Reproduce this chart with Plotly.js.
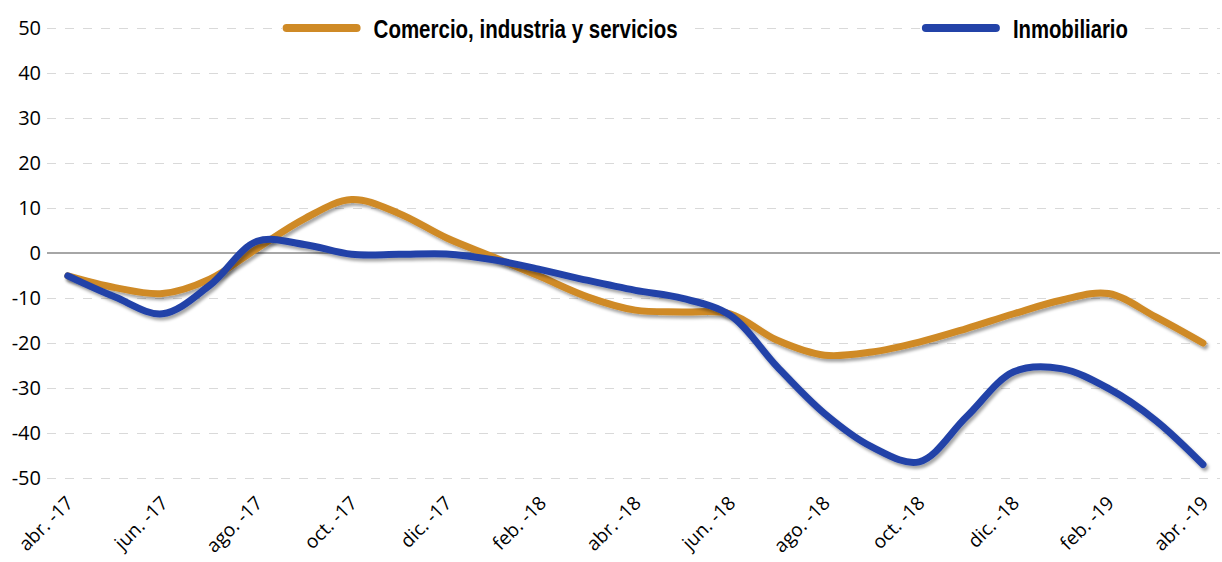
<!DOCTYPE html>
<html>
<head>
<meta charset="utf-8">
<script src="https://cdn.plot.ly/plotly-3.0.1.min.js"></script>
<style>
  html, body { margin: 0; padding: 0; background: #fff; }
  #chart { width: 1222px; height: 562px; }
  .legendlines path, .scatterlayer path.js-line { stroke-linecap: round !important; stroke-linejoin: round !important; }
</style>
</head>
<body>
<div id="chart"></div>
<script>
// Months (monthly data); labels shown every two months
const months = ['abr. -17','may. -17','jun. -17','jul. -17','ago. -17','sep. -17','oct. -17','nov. -17','dic. -17',
  'ene. -18','feb. -18','mar. -18','abr. -18','may. -18','jun. -18','jul. -18','ago. -18','sep. -18','oct. -18',
  'nov. -18','dic. -18','ene. -19','feb. -19','mar. -19','abr. -19'];
const tickLabels = ['abr. -17','jun. -17','ago. -17','oct. -17','dic. -17','feb. -18','abr. -18','jun. -18',
  'ago. -18','oct. -18','dic. -18','feb. -19','abr. -19'];
const comercio = [-5.1, -7.7, -9.0, -5.8, 1.0, 7.6, 11.9, 8.8, 3.4, -0.9, -5.3, -9.8, -12.7,
  -13.1, -13.5, -19.4, -22.7, -22.0, -19.8, -16.8, -13.5, -10.5, -9.0, -14.2, -20.0];
const inmobiliario = [-5.1, -9.8, -13.5, -7.2, 2.6, 1.9, -0.3, -0.3, -0.2, -1.5, -3.7, -6.1, -8.3,
  -10.1, -13.8, -25.3, -35.7, -43.1, -46.4, -36.4, -26.4, -25.7, -30.1, -37.2, -47.0];
const seriesNames = ['Comercio, industria y servicios', 'Inmobiliario'];
const yTicks = [-50, -40, -30, -20, -10, 0, 10, 20, 30, 40, 50];

const orange = '#CF8A26';
const blue = '#2343A8';

const traces = [
  { x: months, y: comercio, name: seriesNames[0], type: 'scatter', mode: 'lines',
    line: { color: orange, width: 7, shape: 'spline', smoothing: 1 }, legend: 'legend' },
  { x: months, y: inmobiliario, name: seriesNames[1], type: 'scatter', mode: 'lines',
    line: { color: blue, width: 7, shape: 'spline', smoothing: 1 }, legend: 'legend2' }
];

const legendFont = { family: '"Liberation Sans Narrow", "Liberation Sans", sans-serif', size: 25, color: '#000', weight: 'bold' };

const layout = {
  width: 1222, height: 562,
  margin: { l: 47, r: 2, t: 19, b: 75 },
  paper_bgcolor: '#fff', plot_bgcolor: '#fff',
  showlegend: true,
  legend: { x: 0.2, y: 0.98, xanchor: 'left', yanchor: 'middle', orientation: 'h', bgcolor: '#fff',
    font: legendFont, itemwidth: 70 },
  legend2: { x: 0.745, y: 0.98, xanchor: 'left', yanchor: 'middle', orientation: 'h', bgcolor: '#fff',
    font: legendFont, itemwidth: 70 },
  xaxis: {
    type: 'category', range: [-0.44, 24.36],
    tickvals: tickLabels, ticktext: tickLabels, tickangle: -45,
    showgrid: false, zeroline: false, showline: false, ticks: '',
    tickfont: { family: '"Open Sans", sans-serif', size: 19, color: '#000' }
  },
  yaxis: {
    range: [-52, 52], tickvals: yTicks, ticktext: yTicks.map(String),
    showgrid: true, gridcolor: '#D9D9D9', griddash: 'dash', gridwidth: 1,
    zeroline: true, zerolinecolor: '#A6A6A6', zerolinewidth: 1.5,
    showline: false, ticks: '', ticklabelstandoff: 5,
    tickfont: { family: '"Open Sans", sans-serif', size: 20, color: '#000' }
  }
};

function styleLegends(gd) {
  const gap = 12;
  const targets = { 'Comercio, industria y servicios': 304, 'Inmobiliario': 115 };
  gd.querySelectorAll('[class*="legend"] path.js-line, .legendlines path').forEach(function (p) {
    if (p.closest('.scatterlayer')) return;
    p.style.strokeWidth = '8px';
    p.style.strokeLinecap = 'round';
  });
  gd.querySelectorAll('text').forEach(function (t) {
    const cls = t.getAttribute('class') || '';
    if (!/legend\d*text/.test(cls)) return;
    if (t.getAttribute('data-done')) return;
    t.setAttribute('data-done', '1');
    const x = parseFloat(t.getAttribute('x') || '0');
    t.setAttribute('x', x + gap);
    const w = t.getComputedTextLength();
    const target = targets[t.textContent];
    if (target && Math.abs(w - target) > 8) {
      t.setAttribute('textLength', target);
      t.setAttribute('lengthAdjust', 'spacingAndGlyphs');
    }
    // find the legend box background
    let node = t.parentNode, bg = null;
    while (node && node !== gd) {
      const cand = node.querySelector ? node.querySelector(':scope > rect.bg') : null;
      if (cand) { bg = cand; break; }
      node = node.parentNode;
    }
    if (bg) {
      const bgR = bg.getBoundingClientRect();
      const tR = t.getBoundingClientRect();
      bg.setAttribute('width', Math.max(10, tR.right - bgR.left + 16));
    }
  });
}

Plotly.newPlot('chart', traces, layout, { displayModeBar: false, staticPlot: true }).then(function (gd) {
  const svg = gd.querySelector('svg.main-svg');
  const ns = 'http://www.w3.org/2000/svg';
  let defs = svg.querySelector('defs');
  if (!defs) { defs = document.createElementNS(ns, 'defs'); svg.insertBefore(defs, svg.firstChild); }
  const f = document.createElementNS(ns, 'filter');
  f.setAttribute('id', 'lineShadow');
  f.setAttribute('x', '-5%'); f.setAttribute('y', '-20%');
  f.setAttribute('width', '110%'); f.setAttribute('height', '140%');
  const ds = document.createElementNS(ns, 'feDropShadow');
  ds.setAttribute('dx', '2'); ds.setAttribute('dy', '3');
  ds.setAttribute('stdDeviation', '1.8');
  ds.setAttribute('flood-color', '#000'); ds.setAttribute('flood-opacity', '0.35');
  f.appendChild(ds); defs.appendChild(f);
  gd.querySelectorAll('.scatterlayer .trace').forEach(function (g) { g.setAttribute('filter', 'url(#lineShadow)'); });

  styleLegends(gd);
  setTimeout(function () { styleLegends(gd); }, 0);
});
</script>
</body>
</html>
